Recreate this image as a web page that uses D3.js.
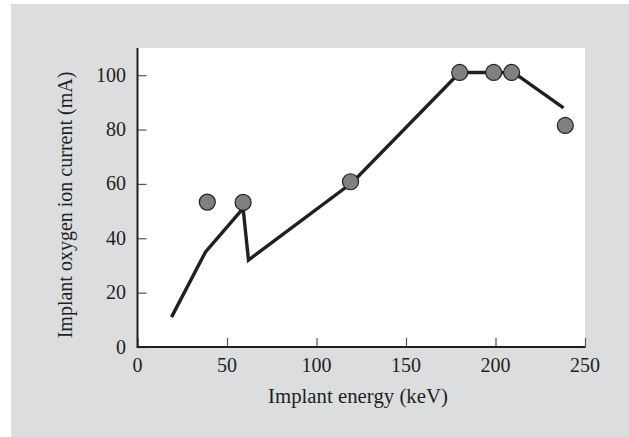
<!DOCTYPE html>
<html>
<head>
<meta charset="utf-8">
<script src="https://cdn.jsdelivr.net/npm/d3@7/dist/d3.min.js"></script>
<style>
html,body{margin:0;padding:0;background:#fff;}
svg{display:block;}
text{font-family:"Liberation Serif","DejaVu Serif",serif;fill:#231f20;}
</style>
</head>
<body>
<svg id="chart" width="629" height="437"></svg>
<script>
// Data
const lineEnergy = [19, 38, 59, 62, 120, 180, 210, 238];
const lineCurrent = [11, 35, 51, 32, 60.5, 101, 101, 88];
const pointEnergy = [39, 59, 119, 180, 199, 209, 239];
const pointCurrent = [53.3, 53.2, 60.8, 101, 101, 101, 81.5];
const xTicks = [0, 50, 100, 150, 200, 250];
const yTicks = [0, 20, 40, 60, 80, 100];
const xTitle = "Implant energy (keV)";
const yTitle = "Implant oxygen ion current (mA)";

const svg = d3.select("#chart");
const W = 629, H = 437;
const m = {left: 137.5, right: 585, top: 48, bottom: 347};

svg.append("rect").attr("x", 11).attr("y", 4).attr("width", W - 11).attr("height", H - 4).attr("fill", "#dcdddf");
svg.append("rect").attr("x", m.left).attr("y", m.top).attr("width", m.right - m.left).attr("height", m.bottom - m.top).attr("fill", "#ffffff");

const x = d3.scaleLinear().domain([0, 250]).range([m.left, m.right]);
const y = d3.scaleLinear().domain([0, 110]).range([m.bottom, m.top]);

// ticks (inward)
const xAxis = d3.axisTop(x).tickValues(xTicks).tickSize(9).tickFormat("");
const gx = svg.append("g").attr("transform", `translate(0,${m.bottom})`).call(xAxis);
gx.select(".domain").remove();
gx.selectAll(".tick line").attr("stroke", "#555").attr("stroke-width", 1.2);

const yAxis = d3.axisRight(y).tickValues(yTicks).tickSize(9).tickFormat("");
const gy = svg.append("g").attr("transform", `translate(${m.left},0)`).call(yAxis);
gy.select(".domain").remove();
gy.selectAll(".tick line").attr("stroke", "#555").attr("stroke-width", 1.2);

// axis lines
svg.append("line").attr("x1", m.left).attr("x2", m.right + 0.5).attr("y1", m.bottom).attr("y2", m.bottom)
  .attr("stroke", "#231f20").attr("stroke-width", 2);
svg.append("line").attr("x1", m.left).attr("x2", m.left).attr("y1", m.top).attr("y2", m.bottom + 1)
  .attr("stroke", "#231f20").attr("stroke-width", 2);

// tick labels
svg.append("g").selectAll("text").data(xTicks).join("text")
  .attr("x", d => x(d)).attr("y", 372).attr("text-anchor", "middle")
  .attr("font-size", 20).text(d => d);
svg.append("g").selectAll("text").data(yTicks).join("text")
  .attr("x", 126).attr("y", d => y(d) + 6.5).attr("text-anchor", "end")
  .attr("font-size", 20).text(d => d);

// titles
svg.append("text").attr("x", 358).attr("y", 403).attr("text-anchor", "middle")
  .attr("font-size", 20.8).text(xTitle);
svg.append("text").attr("transform", "translate(72,205) rotate(-90)").attr("text-anchor", "middle")
  .attr("font-size", 20).text(yTitle);

// line
const lineData = lineEnergy.map((e, i) => [e, lineCurrent[i]]);
svg.append("path").datum(lineData)
  .attr("d", d3.line().x(d => x(d[0])).y(d => y(d[1])))
  .attr("fill", "none").attr("stroke", "#231f20").attr("stroke-width", 3.4).attr("stroke-linejoin", "miter");

// points
const ptData = pointEnergy.map((e, i) => [e, pointCurrent[i]]);
svg.append("g").selectAll("circle").data(ptData).join("circle")
  .attr("cx", d => x(d[0])).attr("cy", d => y(d[1])).attr("r", 8)
  .attr("fill", "#808080").attr("stroke", "#231f20").attr("stroke-width", 1.2);
</script>
</body>
</html>
